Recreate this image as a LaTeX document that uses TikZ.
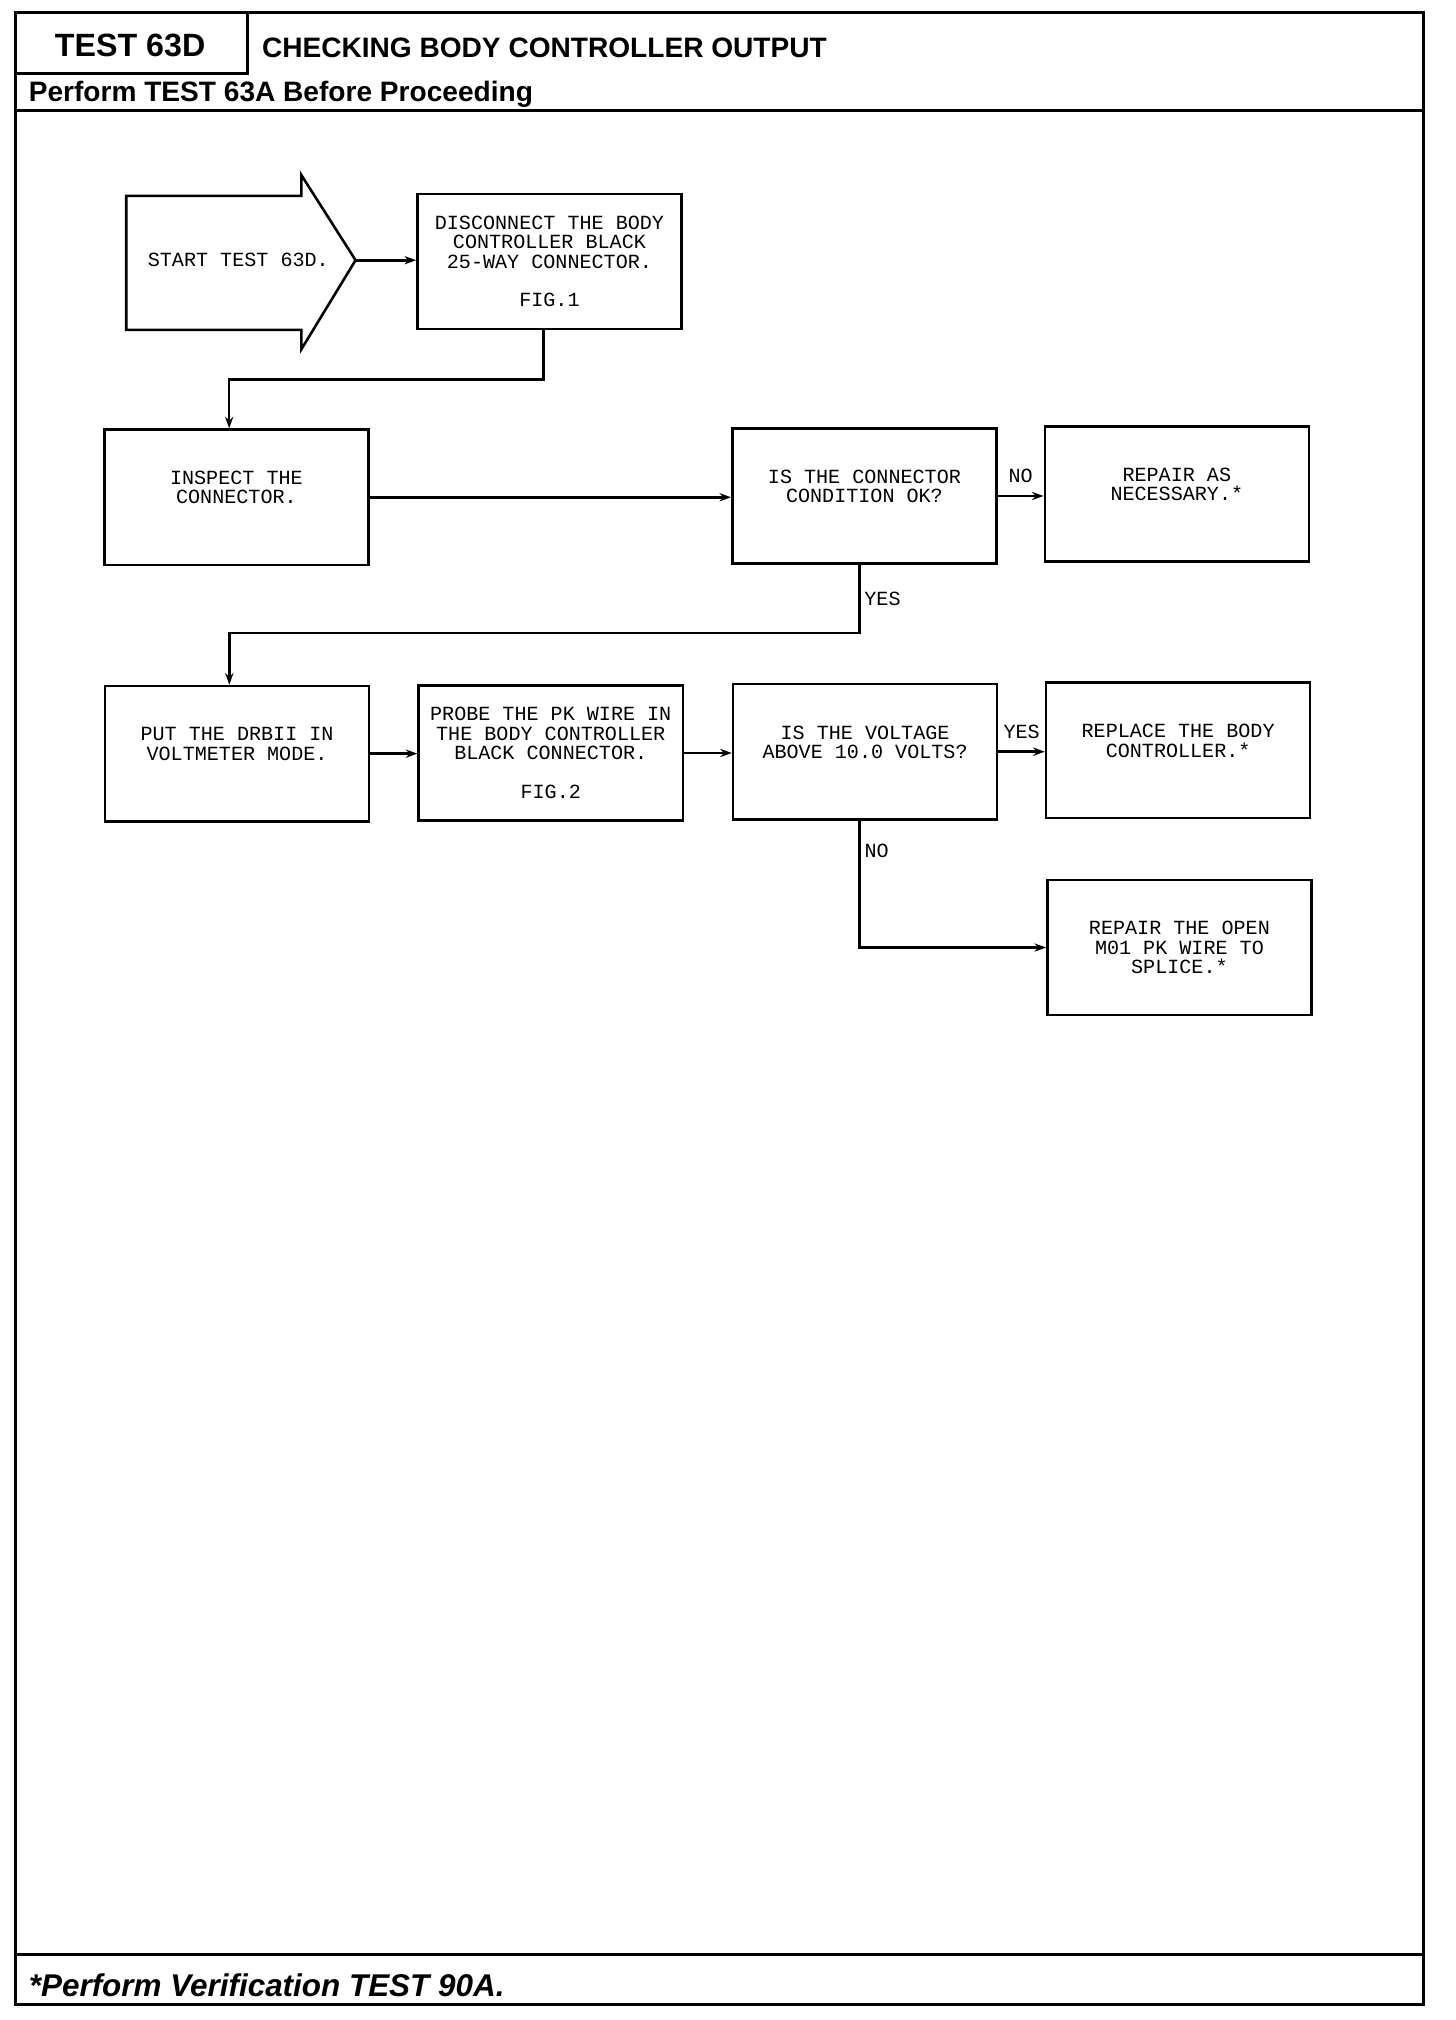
\documentclass[tikz,border=0pt]{standalone}
\usepackage{fontspec}
\setmainfont{Liberation Sans}
\newfontfamily\plotfont{Liberation Mono}
\usetikzlibrary{arrows.meta}

\begin{document}
\begin{tikzpicture}[>={Stealth[length=4.5pt,width=3.2pt]},x=.5pt,y=-.5pt,
  stepbox/.style={draw,line width=1pt,minimum width=102.5pt,minimum height=52.5pt,inner sep=0pt,align=center,font=\plotfont\fontsize{7.8}{7.5}\selectfont},
  tag/.style={font=\plotfont\fontsize{7.8}{7.5}\selectfont,inner sep=1.5pt},
  flow/.style={line width=1pt,->},
  rule/.style={line width=1.2pt}]
\useasboundingbox (0,0) rectangle (1130,1568);
% frame and header
\draw[rule] (12,10) rectangle (1105,1556);
\draw[rule] (12,57)--(192,57)--(192,10);\draw[rule] (12,86)--(1105,86);\draw[rule] (12,1517)--(1105,1517);
\node[font=\bfseries\fontsize{12.5}{14}\selectfont] (testno) at (101,35) {TEST 63D};
\node[anchor=west,inner sep=0pt,font=\bfseries\fontsize{10.9}{12}\selectfont] (title) at (203,37) {CHECKING BODY CONTROLLER OUTPUT};
\node[anchor=west,inner sep=0pt,font=\bfseries\fontsize{10.9}{12}\selectfont] (pretest) at (22,73) {Perform TEST 63A Before Proceeding};
\node[anchor=west,inner sep=0pt,font=\bfseries\itshape\fontsize{12.2}{13}\selectfont] (posttest) at (22,1541) {*Perform Verification TEST 90A.};
% start arrow
\draw[line width=1pt] (98,152)--(234,152)--(234,136)--(276,202)--(234,271)--(234,256)--(98,256)--cycle;
\coordinate (starttip) at (276,202);\node[tag] (start) at (185,202) {START TEST 63D.};
% boxes
\node[stepbox] (disc) at (426.5,203) {DISCONNECT THE BODY\\CONTROLLER BLACK\\25-WAY CONNECTOR.\\\mbox{}\\FIG.1};
\node[stepbox] (inspect) at (183.5,386) {INSPECT THE\\CONNECTOR.\\\mbox{}};
\node[stepbox] (cond) at (671,385) {IS THE CONNECTOR\\CONDITION OK?\\\mbox{}};
\node[stepbox] (fixconn) at (913.5,383.5) {REPAIR AS\\NECESSARY.*\\\mbox{}};
\node[stepbox] (meter) at (184,585) {PUT THE DRBII IN\\VOLTMETER MODE.\\\mbox{}};
\node[stepbox] (probe) at (427.5,584.5) {PROBE THE PK WIRE IN\\THE BODY CONTROLLER\\BLACK CONNECTOR.\\\mbox{}\\FIG.2};
\node[stepbox] (volt) at (671.5,583.5) {IS THE VOLTAGE\\ABOVE 10.0 VOLTS?\\\mbox{}};
\node[stepbox] (replace) at (914.5,582.5) {REPLACE THE BODY\\CONTROLLER.*\\\mbox{}};
\node[stepbox] (openwire) at (915.5,735.5) {REPAIR THE OPEN\\M01 PK WIRE TO\\SPLICE.*};
% connectors
\draw[flow] (starttip)--(starttip-|disc.west);
\draw[flow] ([xshift=-2.2pt]disc.south)--++(0,38)-|([xshift=-2.8pt]inspect.north);
\draw[flow] (inspect.east)--(inspect.east-|cond.west);
\draw[flow] (cond.east)--node[tag,above=3pt] (no1) {NO} (cond.east-|fixconn.west);
\draw[flow] ([xshift=-2pt]cond.south)--node[tag,right] (yes1) {YES} ++(0,53)-|([xshift=-3pt]meter.north);
\draw[flow] (meter.east)--(meter.east-|probe.west);\draw[flow] (probe.east)--(probe.east-|volt.west);
\draw[flow] (volt.east)--node[tag,above=3pt] (yes2) {YES} (volt.east-|replace.west);
\draw[flow] ([xshift=-2.2pt]volt.south)|-node[tag,right,pos=.12] (no2) {NO} (openwire.west);
\end{tikzpicture}
\end{document}
